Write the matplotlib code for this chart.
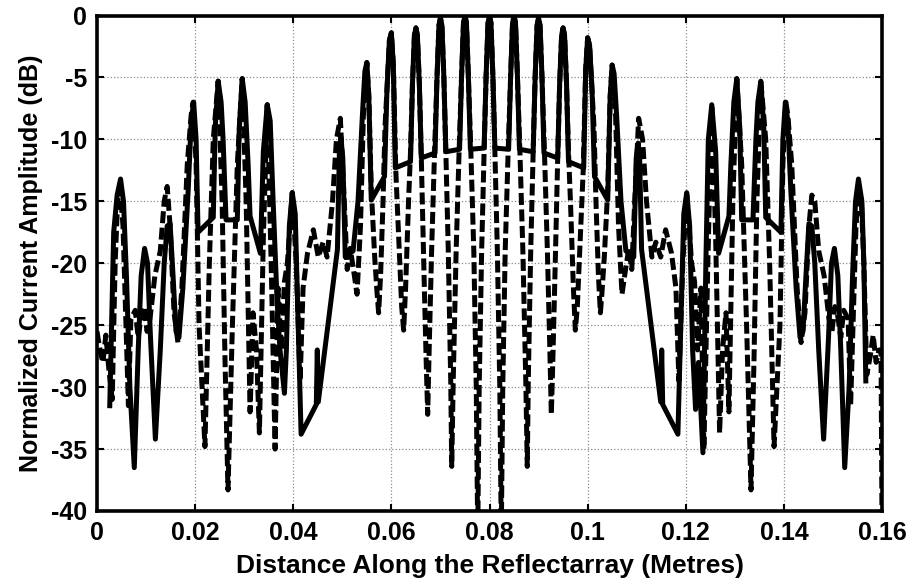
import matplotlib
matplotlib.use("Agg")
import matplotlib.pyplot as plt

plt.rcParams['font.family'] = ['Liberation Sans', 'DejaVu Sans']
plt.rcParams['axes.unicode_minus'] = False

# ---------------- data (x in metres, y in dB) ----------------
solid_left_x = [0.0026, 0.0034, 0.0041, 0.0048, 0.0054, 0.0060, 0.0067, 0.0076, 0.0084, 0.0090,
                0.0097, 0.0103, 0.0109, 0.0119, 0.0129, 0.0137, 0.0143, 0.0149, 0.0155, 0.0161,
                0.0167, 0.0175, 0.0186, 0.0192, 0.0197, 0.0202, 0.0206, 0.0237, 0.0241, 0.0247,
                0.0253, 0.0257, 0.0263, 0.0286, 0.0290, 0.0296, 0.0302, 0.0308, 0.0312, 0.0333,
                0.0339, 0.0347, 0.0353, 0.0359, 0.0367, 0.0373, 0.0382, 0.0386, 0.0392, 0.0398,
                0.0404, 0.0410, 0.0416, 0.0447, 0.0449, 0.0451, 0.0490, 0.0494, 0.0497, 0.0501,
                0.0506, 0.0522, 0.0532, 0.0541, 0.0546, 0.0550, 0.0554, 0.0559, 0.0586, 0.0591,
                0.0596, 0.0600, 0.0604, 0.0608, 0.0639, 0.0643, 0.0647, 0.0650, 0.0653, 0.0657,
                0.0661, 0.0689, 0.0693, 0.0697, 0.0700, 0.0703, 0.0707, 0.0711, 0.0739, 0.0743,
                0.0747, 0.0750, 0.0753, 0.0757, 0.0761, 0.0789, 0.0793, 0.0797, 0.0800]
solid_left_y = [-31.5, -17.5, -14.5, -13.2, -15.0, -21.0, -30.0, -36.5, -27.0, -21.0,
                -18.8, -20.0, -26.0, -34.2, -27.0, -20.0, -17.0, -16.8, -21.0, -25.5,
                -26.0, -22.0, -14.0, -8.5, -7.0, -10.0, -17.5, -16.3, -9.0, -5.3,
                -7.0, -10.0, -16.5, -16.5, -9.0, -5.1, -7.0, -12.0, -16.2, -19.2,
                -11.0, -7.2, -8.5, -15.0, -23.0, -27.0, -30.5, -27.0, -17.0, -14.3,
                -16.0, -25.0, -33.8, -31.4, -27.0, -31.2, -18.9, -11.0, -9.8, -11.5,
                -19.5, -19.0, -15.0, -8.0, -4.5, -3.8, -6.5, -14.9, -13.0, -6.0,
                -2.0, -1.4, -4.0, -12.3, -11.8, -5.5, -1.6, -1.0, -1.6, -5.5,
                -11.5, -11.1, -5.0, -0.8, -0.2, -0.8, -5.0, -11.0, -10.8, -5.0,
                -0.6, 0.0, -0.6, -5.0, -10.8, -10.7, -5.0, -0.6, 0.0]

solid_right_x = [0.0803, 0.0807, 0.0811, 0.0839, 0.0843, 0.0847, 0.0850, 0.0853, 0.0857, 0.0861,
                 0.0889, 0.0893, 0.0897, 0.0900, 0.0903, 0.0907, 0.0911, 0.0939, 0.0943, 0.0947,
                 0.0950, 0.0953, 0.0957, 0.0961, 0.0992, 0.0996, 0.1000, 0.1004, 0.1009, 0.1014,
                 0.1041, 0.1046, 0.1050, 0.1054, 0.1059, 0.1068, 0.1078, 0.1094, 0.1099, 0.1103,
                 0.1106, 0.1110, 0.1149, 0.1151, 0.1153, 0.1184, 0.1190, 0.1196, 0.1202, 0.1208,
                 0.1214, 0.1220, 0.1226, 0.1235, 0.1241, 0.1246, 0.1253, 0.1261, 0.1267, 0.1288,
                 0.1292, 0.1298, 0.1304, 0.1310, 0.1314, 0.1337, 0.1343, 0.1347, 0.1353, 0.1359,
                 0.1363, 0.1394, 0.1398, 0.1403, 0.1408, 0.1414, 0.1425, 0.1433, 0.1439, 0.1445,
                 0.1451, 0.1457, 0.1463, 0.1471, 0.1481, 0.1491, 0.1497, 0.1503, 0.1510, 0.1516,
                 0.1524, 0.1533, 0.1540, 0.1546, 0.1552, 0.1559, 0.1563, 0.1567]
solid_right_y = [-0.6, -5.0, -10.7, -10.8, -5.0, -0.6, 0.0, -0.6, -5.0, -10.8,
                 -11.0, -5.0, -0.8, -0.2, -0.8, -5.0, -11.1, -11.5, -5.5, -1.6,
                 -1.0, -1.6, -5.5, -11.8, -12.3, -4.4, -1.8, -2.4, -6.0, -13.0,
                 -14.9, -6.5, -4.0, -4.7, -8.0, -15.0, -19.0, -19.5, -11.5, -10.3,
                 -11.5, -18.9, -31.2, -27.0, -31.4, -33.8, -25.0, -16.0, -14.3, -17.0,
                 -27.0, -31.8, -28.0, -35.3, -20.0, -10.0, -7.2, -11.0, -19.2, -16.2,
                 -12.0, -7.0, -5.1, -9.0, -16.5, -16.5, -10.0, -7.0, -5.3, -9.0,
                 -16.3, -17.5, -10.0, -7.0, -8.5, -14.0, -22.0, -26.0, -25.5, -21.0,
                 -16.8, -17.0, -20.0, -27.0, -34.2, -26.0, -20.0, -18.8, -21.0, -27.0,
                 -36.5, -30.0, -21.0, -15.0, -13.2, -15.0, -20.0, -29.5]

dashed_left_x = [0.0000, 0.0006, 0.0012, 0.0018, 0.0024, 0.0031, 0.0037, 0.0042, 0.0047, 0.0053,
                 0.0059, 0.0064, 0.0069, 0.0078, 0.0084, 0.0090, 0.0096, 0.0102, 0.0108, 0.0118,
                 0.0129, 0.0137, 0.0143, 0.0149, 0.0157, 0.0165, 0.0173, 0.0184, 0.0192, 0.0196,
                 0.0202, 0.0208, 0.0220, 0.0229, 0.0237, 0.0247, 0.0255, 0.0261, 0.0267, 0.0276,
                 0.0286, 0.0296, 0.0304, 0.0312, 0.0318, 0.0325, 0.0331, 0.0339, 0.0347, 0.0355,
                 0.0363, 0.0369, 0.0376, 0.0382, 0.0388, 0.0398, 0.0406, 0.0414, 0.0420, 0.0429,
                 0.0441, 0.0451, 0.0461, 0.0469, 0.0480, 0.0488, 0.0496, 0.0504, 0.0510, 0.0516,
                 0.0522, 0.0530, 0.0537, 0.0543, 0.0550, 0.0554, 0.0559, 0.0566, 0.0571, 0.0574,
                 0.0578, 0.0583, 0.0587, 0.0591, 0.0596, 0.0600, 0.0604, 0.0609, 0.0616, 0.0621,
                 0.0625, 0.0629, 0.0635, 0.0639, 0.0643, 0.0647, 0.0650, 0.0653, 0.0657, 0.0661,
                 0.0666, 0.0671, 0.0674, 0.0677, 0.0682, 0.0688, 0.0693, 0.0697, 0.0700, 0.0703,
                 0.0707, 0.0711, 0.0716, 0.0721, 0.0723, 0.0726, 0.0732, 0.0738, 0.0743, 0.0747,
                 0.0750, 0.0753, 0.0757, 0.0762, 0.0768, 0.0773, 0.0776, 0.0779, 0.0784, 0.0789,
                 0.0793, 0.0797, 0.0800]
dashed_left_y = [-25.5, -27.0, -28.0, -25.8, -28.5, -31.0, -20.0, -15.0, -14.0, -17.0,
                 -25.0, -31.5, -24.5, -23.8, -26.0, -24.3, -23.5, -25.5, -24.5, -21.0,
                 -19.0, -15.0, -13.8, -17.0, -24.0, -26.4, -22.0, -12.0, -8.0, -7.0,
                 -12.0, -25.0, -34.8, -20.0, -10.0, -5.3, -15.0, -28.0, -38.3, -25.0,
                 -12.0, -5.1, -15.0, -32.0, -24.0, -27.0, -33.7, -18.0, -7.2, -20.0,
                 -35.0, -22.0, -27.0, -21.5, -20.0, -14.3, -20.0, -29.5, -22.0, -19.2,
                 -17.3, -19.5, -18.3, -19.5, -15.0, -10.0, -8.3, -15.0, -20.5, -18.8,
                 -20.3, -22.5, -17.0, -8.0, -3.8, -6.5, -14.0, -19.5, -22.5, -24.0,
                 -21.0, -15.0, -9.0, -6.0, -2.0, -1.4, -4.0, -12.5, -19.0, -23.5,
                 -25.4, -22.0, -15.0, -11.0, -5.5, -1.6, -1.0, -1.6, -5.5, -11.5,
                 -20.0, -28.0, -32.2, -27.0, -19.0, -11.0, -5.0, -0.8, -0.2, -0.8,
                 -5.0, -11.0, -19.0, -29.6, -36.4, -29.6, -19.0, -11.0, -5.0, -0.6,
                 0.0, -0.6, -5.0, -11.0, -19.0, -30.0, -42.0, -30.0, -19.0, -11.0,
                 -5.0, -0.6, 0.0]

dashed_right_x = [0.0803, 0.0807, 0.0811, 0.0816, 0.0821, 0.0824, 0.0827, 0.0832, 0.0838, 0.0843,
                  0.0847, 0.0850, 0.0853, 0.0857, 0.0862, 0.0868, 0.0874, 0.0877, 0.0879, 0.0884,
                  0.0889, 0.0893, 0.0897, 0.0900, 0.0903, 0.0907, 0.0912, 0.0918, 0.0923, 0.0926,
                  0.0929, 0.0934, 0.0939, 0.0943, 0.0947, 0.0950, 0.0953, 0.0957, 0.0961, 0.0965,
                  0.0971, 0.0975, 0.0979, 0.0984, 0.0991, 0.0996, 0.1000, 0.1004, 0.1009, 0.1013,
                  0.1017, 0.1022, 0.1026, 0.1029, 0.1034, 0.1041, 0.1046, 0.1050, 0.1057, 0.1063,
                  0.1070, 0.1078, 0.1084, 0.1090, 0.1096, 0.1104, 0.1112, 0.1120, 0.1131, 0.1139,
                  0.1149, 0.1159, 0.1171, 0.1180, 0.1186, 0.1194, 0.1202, 0.1212, 0.1218, 0.1224,
                  0.1231, 0.1237, 0.1245, 0.1253, 0.1261, 0.1269, 0.1275, 0.1282, 0.1288, 0.1296,
                  0.1304, 0.1314, 0.1324, 0.1333, 0.1339, 0.1345, 0.1353, 0.1363, 0.1371, 0.1380,
                  0.1392, 0.1398, 0.1404, 0.1408, 0.1416, 0.1427, 0.1435, 0.1443, 0.1451, 0.1457,
                  0.1463, 0.1471, 0.1482, 0.1492, 0.1498, 0.1504, 0.1510, 0.1516, 0.1522, 0.1531,
                  0.1536, 0.1541, 0.1547, 0.1553, 0.1558, 0.1563, 0.1569, 0.1576, 0.1582, 0.1588,
                  0.1594, 0.1598, 0.1600]
dashed_right_y = [-0.6, -5.0, -11.0, -19.0, -30.0, -42.0, -30.0, -19.0, -11.0, -5.0,
                  -0.6, 0.0, -0.6, -5.0, -11.0, -19.0, -29.6, -36.4, -29.6, -19.0,
                  -11.0, -5.0, -0.8, -0.2, -0.8, -5.0, -11.0, -19.0, -27.0, -32.2,
                  -28.0, -20.0, -11.5, -5.5, -1.6, -1.0, -1.6, -5.5, -11.0, -15.0,
                  -22.0, -25.4, -23.5, -19.0, -12.5, -4.4, -1.8, -2.4, -6.0, -9.0,
                  -15.0, -21.0, -24.0, -22.5, -19.5, -14.0, -6.5, -4.0, -8.0, -17.0,
                  -22.5, -20.3, -18.8, -20.5, -15.0, -8.3, -10.0, -15.0, -19.5, -18.3,
                  -19.5, -17.3, -19.2, -22.0, -29.5, -20.0, -14.3, -20.0, -21.5, -27.0,
                  -22.0, -35.0, -20.0, -7.2, -18.0, -33.7, -27.0, -24.0, -32.0, -15.0,
                  -5.1, -12.0, -25.0, -38.3, -28.0, -15.0, -5.3, -10.0, -20.0, -34.8,
                  -25.0, -12.0, -7.0, -8.0, -12.0, -22.0, -26.4, -24.0, -17.0, -14.5,
                  -15.0, -19.0, -21.0, -24.5, -25.5, -23.5, -24.3, -26.0, -23.8, -24.5,
                  -31.5, -25.0, -17.0, -14.0, -15.0, -20.0, -29.0, -27.5, -25.8, -28.0,
                  -27.0, -27.0, -41.0]

x_ticks = [0, 0.02, 0.04, 0.06, 0.08, 0.1, 0.12, 0.14, 0.16]
x_tick_labels = ['0', '0.02', '0.04', '0.06', '0.08', '0.1', '0.12', '0.14', '0.16']
y_ticks = [0, -5, -10, -15, -20, -25, -30, -35, -40]
y_tick_labels = ['0', '-5', '-10', '-15', '-20', '-25', '-30', '-35', '-40']

# ---------------- figure ----------------
fig = plt.figure(figsize=(9.15, 5.85), dpi=100)
ax = fig.add_axes([97 / 915, 1 - 511 / 585, (882 - 97) / 915, (511 - 15.5) / 585])

ax.plot(solid_left_x + solid_right_x, solid_left_y + solid_right_y,
        color='black', lw=3.6, solid_joinstyle='round', zorder=3)
ax.plot(dashed_left_x + dashed_right_x, dashed_left_y + dashed_right_y,
        color='black', lw=3.6, linestyle=(0, (2.4, 0.9)), zorder=4)

ax.set_xlim(0, 0.16)
ax.set_ylim(-40, 0)
ax.set_xticks(x_ticks)
ax.set_xticklabels(x_tick_labels)
ax.set_yticks(y_ticks)
ax.set_yticklabels(y_tick_labels)

ax.grid(True, color='#8c8c8c', linestyle=':', linewidth=0.9)
ax.set_axisbelow(True)
for sp in ax.spines.values():
    sp.set_linewidth(2.6)
    sp.set_color('black')

ax.tick_params(direction='in', top=True, right=True, length=5, width=1.5,
               labelsize=18, pad=7)
for lab in ax.get_xticklabels() + ax.get_yticklabels():
    lab.set_fontweight('bold')

ax.set_xlabel('Distance Along the Reflectarray (Metres)', fontsize=19,
              fontweight='bold', labelpad=7)
ax.set_ylabel('Normalized Current Amplitude (dB)', fontsize=18,
              fontweight='bold', labelpad=6)

fig.savefig('out.png', dpi=100)
